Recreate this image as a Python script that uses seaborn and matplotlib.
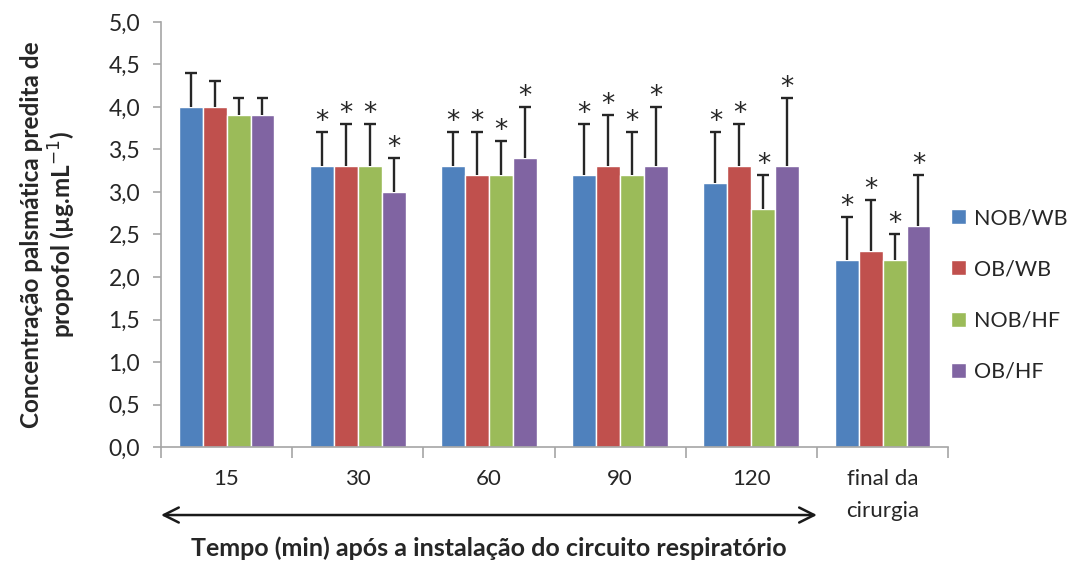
import matplotlib
matplotlib.use("Agg")
import matplotlib.pyplot as plt
import matplotlib.transforms as mtransforms
import numpy as np
import pandas as pd
import seaborn as sns

# --- data ---------------------------------------------------------------
categories = ["15", "30", "60", "90", "120", "final da\ncirurgia"]
groups = ["NOB/WB", "OB/WB", "NOB/HF", "OB/HF"]

nob_wb = [4.0, 3.3, 3.3, 3.2, 3.1, 2.2]
ob_wb = [4.0, 3.3, 3.2, 3.3, 3.3, 2.3]
nob_hf = [3.9, 3.3, 3.2, 3.2, 2.8, 2.2]
ob_hf = [3.9, 3.0, 3.4, 3.3, 3.3, 2.6]

sd_nob_wb = [0.4, 0.4, 0.4, 0.6, 0.6, 0.5]
sd_ob_wb = [0.3, 0.5, 0.5, 0.6, 0.5, 0.6]
sd_nob_hf = [0.2, 0.5, 0.4, 0.5, 0.4, 0.3]
sd_ob_hf = [0.2, 0.4, 0.6, 0.7, 0.8, 0.6]

# significance marker per category (same for every group)
significant = [False, True, True, True, True, True]

colors = ["#4F81BD", "#C0504D", "#9BBB59", "#8064A2"]

means = [nob_wb, ob_wb, nob_hf, ob_hf]
sds = [sd_nob_wb, sd_ob_wb, sd_nob_hf, sd_ob_hf]

rows = []
for g, m, s in zip(groups, means, sds):
    for c, v, e in zip(categories, m, s):
        rows.append({"tempo": c, "grupo": g, "valor": v, "dp": e})
df = pd.DataFrame(rows)

# --- figure -------------------------------------------------------------
sns.set_theme(style="white")
plt.rcParams["font.family"] = ["Lato", "DejaVu Sans"]

fig = plt.figure(figsize=(10.71, 5.63), dpi=100)
ax = fig.add_axes([0.1503, 0.206, 0.735, 0.755])

sns.barplot(data=df, x="tempo", y="valor", hue="grupo", order=categories,
            hue_order=groups, palette=colors, width=0.73, errorbar=None,
            saturation=1, ax=ax, legend=True)

# upper-only error bars and significance asterisks
cap = 0.045
ink = "#262626"
for gi, g in enumerate(groups):
    cont = ax.containers[gi]
    for ci, patch in enumerate(cont.patches):
        x = patch.get_x() + patch.get_width() / 2
        y = means[gi][ci]
        top = y + sds[gi][ci]
        ax.vlines(x, y, top, color=ink, lw=1.7, zorder=3)
        ax.hlines(top, x - cap, x + cap, color=ink, lw=1.7, zorder=3)
        if significant[ci]:
            ax.annotate("*", xy=(x, top), xytext=(0, -2),
                        textcoords="offset points", ha="center", va="bottom",
                        fontsize=19, color=ink, family="DejaVu Sans")

ax.set_ylim(0, 5.0)
ax.set_xlim(-0.5, len(categories) - 0.5)
yt = np.arange(0, 5.01, 0.5)
ax.set_yticks(yt)
ax.set_yticklabels([f"{v:.1f}".replace(".", ",") for v in yt])

# category labels centred, tick marks on the group boundaries
ax.set_xticks(range(len(categories)))
ax.set_xticklabels(categories, linespacing=1.75)
ax.set_xticks(np.arange(-0.5, len(categories)), minor=True)
ax.tick_params(axis="x", which="major", length=0, pad=16, labelsize=16,
               colors=ink)
ax.tick_params(axis="x", which="minor", length=8, width=1.2, color="#A6A6A6",
               direction="out", bottom=True)
ax.tick_params(axis="y", length=6, width=1.2, color="#A6A6A6", direction="out",
               left=True, labelsize=16.5, labelcolor=ink, pad=9)

for side in ["top", "right"]:
    ax.spines[side].set_visible(False)
for side in ["left", "bottom"]:
    ax.spines[side].set_color("#A6A6A6")
    ax.spines[side].set_linewidth(1.2)

ax.set_xlabel("")
ax.set_ylabel("Concentração palsmática predita de\npropofol (µg.mL$^{-1}$)",
              fontsize=17.5, fontweight="bold", color=ink, labelpad=22,
              linespacing=1.15)

# time axis arrow and its caption
trans = mtransforms.blended_transform_factory(ax.transData, ax.transAxes)
ax.annotate("", xy=(-0.5, -0.16), xytext=(4.5, -0.16), xycoords=trans,
            textcoords=trans,
            arrowprops=dict(arrowstyle="<->,head_length=0.9,head_width=0.45",
                            color="#1a1a1a", lw=1.8, shrinkA=0, shrinkB=0),
            annotation_clip=False)
ax.text(2.0, -0.238, "Tempo (min) após a instalação do circuito respiratório",
        transform=trans, ha="center", va="center", fontsize=18,
        fontweight="bold", color=ink)

# legend on the right
handles, labels = ax.get_legend_handles_labels()
ax.legend(handles, labels, loc="center left", bbox_to_anchor=(0.888, 0.476),
          bbox_transform=fig.transFigure, frameon=False, fontsize=15.5,
          handlelength=0.7, handleheight=0.7, handletextpad=0.35,
          labelspacing=1.45, labelcolor=ink, borderpad=0, borderaxespad=0)

fig.savefig("out.png", dpi=100)
